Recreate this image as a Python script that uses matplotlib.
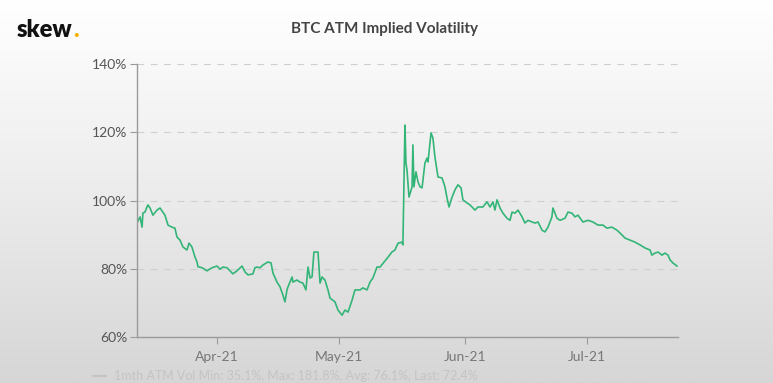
import matplotlib.pyplot as plt
import matplotlib.dates as mdates
import numpy as np
import pandas as pd

# --------------------------------------------------------
# Data
# --------------------------------------------------------
timestamps = [
    "2021-03-12 08:00", "2021-03-13 02:00", "2021-03-13 14:00", "2021-03-13 19:00",
    "2021-03-14 07:00", "2021-03-14 19:00", "2021-03-15 01:00", "2021-03-15 13:00",
    "2021-03-16 06:00", "2021-03-17 06:00", "2021-03-18 00:00", "2021-03-18 17:00",
    "2021-03-19 05:00", "2021-03-19 23:00", "2021-03-20 22:00", "2021-03-21 16:00",
    "2021-03-22 04:00", "2021-03-22 22:00", "2021-03-23 15:00", "2021-03-24 15:00",
    "2021-03-25 03:00", "2021-03-25 20:00", "2021-03-26 14:00", "2021-03-27 02:00",
    "2021-03-27 08:00", "2021-03-28 08:00", "2021-03-29 13:00", "2021-03-30 19:00",
    "2021-04-01 00:00", "2021-04-01 18:00", "2021-04-02 11:00", "2021-04-03 11:00",
    "2021-04-04 05:00", "2021-04-04 22:00", "2021-04-05 22:00", "2021-04-07 04:00",
    "2021-04-07 21:00", "2021-04-08 15:00", "2021-04-09 20:00", "2021-04-10 08:00",
    "2021-04-10 20:00", "2021-04-11 14:00", "2021-04-12 07:00", "2021-04-13 13:00",
    "2021-04-14 07:00", "2021-04-14 18:00", "2021-04-15 18:00", "2021-04-16 12:00",
    "2021-04-17 05:00", "2021-04-17 17:00", "2021-04-18 05:00", "2021-04-18 11:00",
    "2021-04-19 11:00", "2021-04-19 16:00", "2021-04-20 16:00", "2021-04-21 10:00",
    "2021-04-22 03:00", "2021-04-22 21:00", "2021-04-23 09:00", "2021-04-23 21:00",
    "2021-04-24 09:00", "2021-04-24 20:00", "2021-04-25 20:00", "2021-04-26 08:00",
    "2021-04-26 20:00", "2021-04-27 13:00", "2021-04-28 07:00", "2021-04-28 19:00",
    "2021-04-30 00:00", "2021-04-30 18:00", "2021-05-01 18:00", "2021-05-02 11:00",
    "2021-05-03 05:00", "2021-05-04 05:00", "2021-05-04 22:00", "2021-05-06 04:00",
    "2021-05-06 21:00", "2021-05-07 21:00", "2021-05-08 15:00", "2021-05-09 08:00",
    "2021-05-10 08:00", "2021-05-11 02:00", "2021-05-13 01:00", "2021-05-14 00:00",
    "2021-05-14 18:00", "2021-05-15 12:00", "2021-05-16 11:00", "2021-05-16 17:00",
    "2021-05-17 05:00", "2021-05-17 11:00", "2021-05-17 17:00", "2021-05-18 05:00",
    "2021-05-18 23:00", "2021-05-19 04:00", "2021-05-19 10:00", "2021-05-19 22:00",
    "2021-05-20 10:00", "2021-05-20 22:00", "2021-05-21 10:00", "2021-05-22 03:00",
    "2021-05-22 15:00", "2021-05-22 21:00", "2021-05-23 15:00", "2021-05-24 02:00",
    "2021-05-24 14:00", "2021-05-25 08:00", "2021-05-26 08:00", "2021-05-27 01:00",
    "2021-05-27 13:00", "2021-05-28 01:00", "2021-05-28 19:00", "2021-05-29 12:00",
    "2021-05-30 06:00", "2021-05-31 00:00", "2021-05-31 11:00", "2021-06-01 11:00",
    "2021-06-02 05:00", "2021-06-03 10:00", "2021-06-04 04:00", "2021-06-05 09:00",
    "2021-06-06 09:00", "2021-06-07 03:00", "2021-06-07 20:00", "2021-06-08 08:00",
    "2021-06-08 20:00", "2021-06-09 14:00", "2021-06-10 07:00", "2021-06-11 07:00",
    "2021-06-12 01:00", "2021-06-12 13:00", "2021-06-13 06:00", "2021-06-14 00:00",
    "2021-06-15 00:00", "2021-06-15 17:00", "2021-06-16 11:00", "2021-06-17 11:00",
    "2021-06-18 04:00", "2021-06-18 22:00", "2021-06-19 22:00", "2021-06-20 15:00",
    "2021-06-21 09:00", "2021-06-22 08:00", "2021-06-22 14:00", "2021-06-23 14:00",
    "2021-06-24 08:00", "2021-06-25 13:00", "2021-06-26 07:00", "2021-06-27 06:00",
    "2021-06-28 00:00", "2021-06-28 18:00", "2021-06-29 23:00", "2021-07-01 05:00",
    "2021-07-02 10:00", "2021-07-03 16:00", "2021-07-04 21:00", "2021-07-05 21:00",
    "2021-07-07 02:00", "2021-07-08 08:00", "2021-07-09 14:00", "2021-07-10 07:00",
    "2021-07-11 13:00", "2021-07-12 18:00", "2021-07-14 00:00", "2021-07-15 05:00",
    "2021-07-16 11:00", "2021-07-16 22:00", "2021-07-17 16:00", "2021-07-18 10:00",
    "2021-07-19 10:00", "2021-07-20 03:00", "2021-07-20 21:00", "2021-07-21 09:00",
    "2021-07-22 02:00", "2021-07-23 02:00",
]

atm_vol = [
    93.4, 95.2, 92.2, 96.3, 96.6, 98.1, 98.7, 97.8,
    95.7, 97.2, 97.8, 96.6, 95.7, 92.8, 92.2, 91.9,
    89.3, 88.4, 86.4, 85.5, 87.5, 86.4, 83.5, 82.0,
    80.6, 80.3, 79.4, 80.3, 80.8, 79.9, 80.5, 80.3,
    79.4, 78.5, 79.4, 80.8, 79.1, 78.2, 78.5, 80.3,
    80.5, 80.3, 81.1, 82.0, 81.7, 78.8, 76.1, 74.7,
    72.3, 70.3, 73.8, 74.7, 77.6, 76.1, 76.7, 76.1,
    75.8, 73.8, 80.5, 77.3, 77.6, 84.9, 84.9, 75.8,
    77.6, 76.7, 73.8, 71.4, 70.3, 67.9, 66.4, 67.9,
    67.3, 70.8, 73.8, 73.8, 74.4, 73.8, 76.1, 77.3,
    80.5, 80.5, 83.4, 84.9, 85.5, 87.5, 87.8, 87.0,
    122.1, 111.0, 109.0, 101.0, 104.0, 116.3, 104.0, 108.4,
    105.5, 104.0, 103.7, 111.0, 112.4, 111.3, 119.8, 118.3,
    112.7, 106.9, 106.6, 104.0, 100.8, 98.1, 101.0, 103.1,
    104.6, 103.7, 100.2, 99.3, 98.7, 97.2, 98.1, 98.1,
    99.6, 98.1, 99.6, 97.2, 100.2, 97.8, 96.3, 94.8,
    94.2, 96.6, 96.3, 97.2, 95.2, 93.4, 94.2, 93.7,
    93.4, 93.7, 91.3, 90.8, 92.2, 95.2, 97.8, 94.8,
    94.2, 94.8, 96.6, 96.3, 95.2, 95.7, 93.7, 94.2,
    93.7, 92.8, 92.8, 91.9, 92.2, 91.3, 89.9, 89.0,
    88.4, 87.8, 87.0, 86.1, 85.5, 84.0, 84.6, 84.9,
    84.0, 84.6, 84.0, 82.6, 81.7, 80.8,
]

y_ticks = [60, 80, 100, 120, 140]
x_ticks = ["2021-04-01", "2021-05-01", "2021-06-01", "2021-07-01"]
x_range = ["2021-03-12 08:00", "2021-07-23 08:00"]
legend_text = "1mth ATM Vol Min: 35.1%, Max: 181.8%, Avg: 76.1%, Last: 72.4%"

dates = pd.to_datetime(timestamps)

plt.rcParams['font.family'] = ['Lato', 'DejaVu Sans']

fig = plt.figure(figsize=(7.73, 3.83), dpi=100)

# background gradient (white at top, light grey at bottom)
bg = fig.add_axes([0, 0, 1, 1], zorder=-10)
grad = np.linspace(0, 1, 256).reshape(-1, 1)
bg.imshow(grad, aspect='auto', cmap=plt.cm.colors.LinearSegmentedColormap.from_list(
    'bg', ['#ffffff', '#ececec', '#d6d6d6']), extent=[0, 1, 0, 1], origin='upper')
bg.axis('off')

ax = fig.add_axes([0.1772, 0.120, 0.6999, 0.713])
ax.patch.set_alpha(0)

ax.plot(dates, atm_vol, color='#33b578', lw=1.2, solid_joinstyle='round')

ax.set_ylim(60, 140)
ax.set_yticks(y_ticks)
ax.set_yticklabels([f"{v}%" for v in y_ticks])
ax.set_xlim(pd.to_datetime(x_range[0]), pd.to_datetime(x_range[1]))
ax.set_xticks(pd.to_datetime(x_ticks))
ax.xaxis.set_major_formatter(mdates.DateFormatter('%b-%y'))

ax.grid(axis='y', color='#cfcfcf', ls=(0, (6, 6)), lw=0.8)
for v in ['top', 'right']:
    ax.spines[v].set_visible(False)
for v in ['left', 'bottom']:
    ax.spines[v].set_color('#9a9a9a')
    ax.spines[v].set_linewidth(1.0)
ax.tick_params(axis='y', length=5, color='#9a9a9a', labelcolor='#555555',
               labelsize=10, pad=2)
ax.tick_params(axis='x', length=5, color='#9a9a9a', labelcolor='#777777',
               labelsize=10, pad=5)

# header
fig.text(0.498, 0.925, "BTC ATM Implied Volatility", ha='center', va='center',
         fontsize=11, fontweight='bold', color='#444444')
logo = fig.text(0.022, 0.922, "skew", ha='left', va='center', fontsize=17,
                fontweight='heavy', color='#111111')
fig.add_artist(plt.Annotation(".", xy=(1.0, 0.0), xycoords=logo, xytext=(0.5, 0),
                              textcoords='offset points', ha='left', va='bottom',
                              fontsize=17, fontweight='heavy', color='#f0b400'))

# legend along the bottom edge
fig.lines.append(plt.Line2D([0.120, 0.137], [0.017, 0.017], transform=fig.transFigure,
                            color='#c4c4c4', lw=1.5))
fig.text(0.148, 0.017, legend_text, ha='left', va='center', fontsize=9,
         color='#c4c4c4')

fig.savefig('out.png', dpi=100)
